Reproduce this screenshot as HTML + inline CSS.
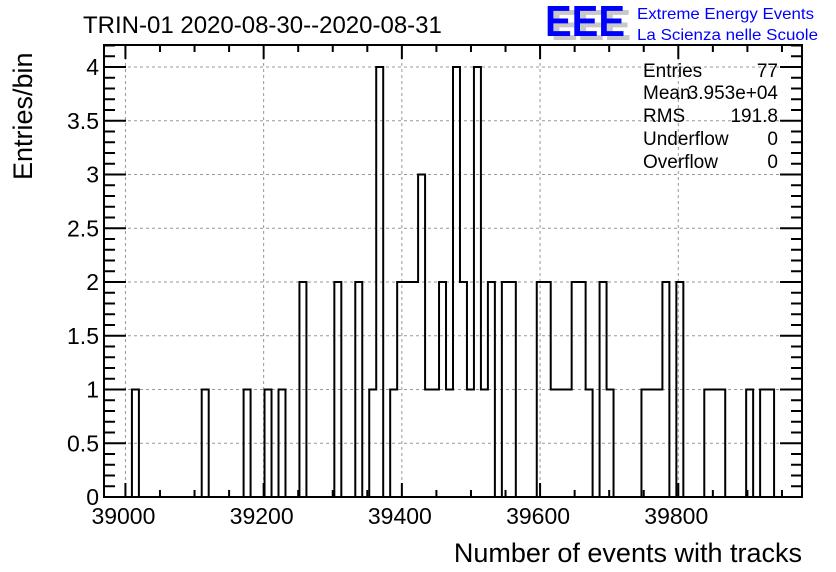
<!DOCTYPE html>
<html><head><meta charset="utf-8"><style>
html,body{margin:0;padding:0;background:#fff;}
svg{display:block;font-family:"Liberation Sans",Arial,sans-serif;}
</style></head><body>
<svg id="c" width="836" height="572" viewBox="0 0 836 572">
<text x="83" y="33" font-size="24">TRIN-01 2020-08-30--2020-08-31</text>
<g>
<text x="551" y="40" font-size="44" fill="#c8c8c8" font-weight="bold" textLength="80" lengthAdjust="spacingAndGlyphs">EEE</text>
<text x="545" y="36" font-size="44" fill="#0000ff" font-weight="bold" textLength="80" lengthAdjust="spacingAndGlyphs">EEE</text>
<text x="637" y="19" font-size="16" fill="#0000ff" textLength="177" lengthAdjust="spacingAndGlyphs">Extreme Energy Events</text>
<text x="637" y="40" font-size="16" fill="#0000ff" textLength="181" lengthAdjust="spacingAndGlyphs">La Scienza nelle Scuole</text>
</g>
<g id="grid"></g>
<g id="hist"></g>
<g id="axes"></g>
<g font-size="19">
<text x="643" y="77">Entries</text><text x="778" y="77" text-anchor="end">77</text>
<text x="643" y="99">Mean</text><text x="778" y="99" text-anchor="end">3.953e+04</text>
<text x="643" y="122">RMS</text><text x="778" y="122" text-anchor="end">191.8</text>
<text x="643" y="145">Underflow</text><text x="778" y="145" text-anchor="end">0</text>
<text x="643" y="168">Overflow</text><text x="778" y="168" text-anchor="end">0</text>
</g>
<text x="802" y="562" font-size="27" text-anchor="end">Number of events with tracks</text>
<text transform="translate(32,180) rotate(-90)" font-size="27">Entries/bin</text>
</svg>
<script>
const xMin = 38969, xMax = 39979, nBins = 100;
const xTicks = [39000, 39200, 39400, 39600, 39800];
const yTicks = [0, 0.5, 1, 1.5, 2, 2.5, 3, 3.5, 4];
const yTickLabels = ["0", "0.5", "1", "1.5", "2", "2.5", "3", "3.5", "4"];
const nonZeroBins = [4,14,20,23,25,28,33,36,38,39,41,42,43,44,45,46,47,48,49,50,51,52,53,54,55,57,58,62,63,64,65,66,67,68,69,71,72,77,78,79,80,82,86,87,88,92,94,95];
const nonZeroCounts = [1,1,1,1,1,2,2,2,1,4,1,2,2,2,3,1,1,2,1,4,2,1,4,1,2,2,2,2,2,1,1,1,2,2,1,2,1,1,1,1,2,2,1,1,1,1,1,1];

const L=104,R=802,T=45,B=497,Y0=497,Y4=67;
const ns="http://www.w3.org/2000/svg";
const sx=v=>L+(v-xMin)/(xMax-xMin)*(R-L);
const sy=v=>Y0-v*(Y0-Y4)/4;
function mk(tag,attrs,parent){const e=document.createElementNS(ns,tag);for(const k in attrs)e.setAttribute(k,attrs[k]);parent.appendChild(e);return e;}
const grid=document.getElementById('grid'),axes=document.getElementById('axes'),hist=document.getElementById('hist');
const counts=new Array(nBins).fill(0);
nonZeroBins.forEach((b,i)=>counts[b]=nonZeroCounts[i]);
xTicks.forEach(v=>{const l=mk('line',{x1:sx(v),x2:sx(v),y1:T,y2:B,stroke:'#999','stroke-dasharray':'3,3','stroke-width':1},grid);
});
yTicks.forEach(v=>{if(v===0)return;const l=mk('line',{x1:L,x2:R,y1:sy(v),y2:sy(v),stroke:'#999','stroke-dasharray':'3,3','stroke-width':1},grid);
});
const bw=(xMax-xMin)/nBins;let d='M'+sx(xMin)+','+sy(0);
for(let i=0;i<nBins;i++){const x0=sx(xMin+i*bw),x1=sx(xMin+(i+1)*bw),y=sy(counts[i]);d+=' L'+x0+','+y+' L'+x1+','+y;}
d+=' L'+sx(xMax)+','+sy(0);
const p=mk('path',{d:d,fill:'none',stroke:'#000','stroke-width':2},hist);

const f=mk('rect',{x:L,y:T,width:R-L,height:B-T,fill:'none',stroke:'#000','stroke-width':2},axes);

for(let v=38950;v<=xMax;v+=50){if(v<xMin)continue;const maj=(v%200===0);const len=maj?14:7;
mk('line',{x1:sx(v),x2:sx(v),y1:B,y2:B-len,stroke:'#000','stroke-width':2},axes);
mk('line',{x1:sx(v),x2:sx(v),y1:T,y2:T+len,stroke:'#000','stroke-width':2},axes);}
xTicks.forEach(v=>{const t=mk('text',{x:sx(v)-2,y:524,'font-size':23,'text-anchor':'middle'},axes);t.textContent=v;
});
for(let k=0;k<=42;k++){const v=k/10;const y=sy(v);if(y<T)break;const maj=(k%5===0);const len=maj?22:11;
mk('line',{x1:L,x2:L+len,y1:y,y2:y,stroke:'#000','stroke-width':2},axes);
mk('line',{x1:R,x2:R-len,y1:y,y2:y,stroke:'#000','stroke-width':2},axes);}
yTicks.forEach((v,i)=>{const t=mk('text',{x:99,y:sy(v)+8,'font-size':23,'text-anchor':'end'},axes);t.textContent=yTickLabels[i];
});
</script>
</body></html>
